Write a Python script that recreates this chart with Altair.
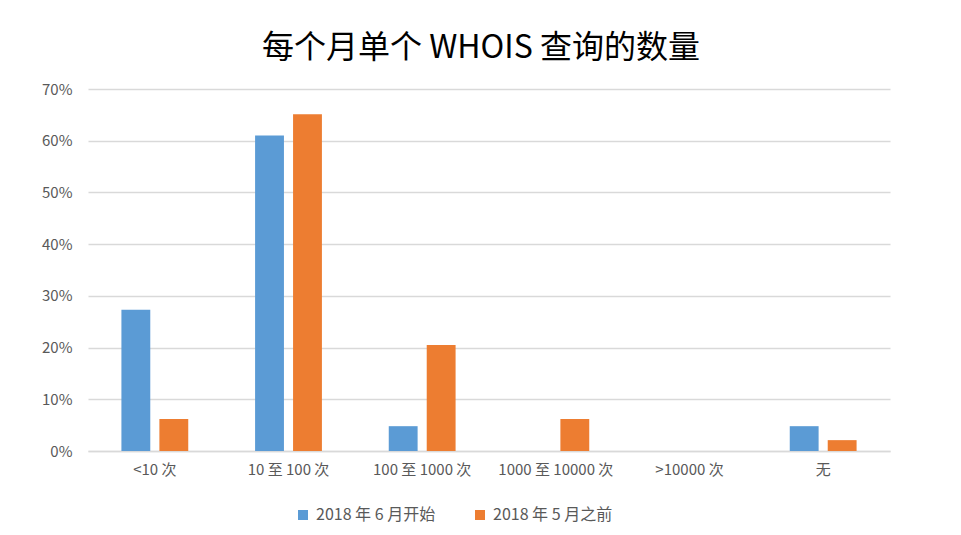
import altair as alt
import pandas as pd

categories = ["<10 次", "10 至 100 次", "100 至 1000 次", "1000 至 10000 次", ">10000 次", "无"]
series_names = ["2018 年 6 月开始", "2018 年 5 月之前"]
since_june = [0.273, 0.61, 0.048, 0.0, 0.0, 0.048]
before_may = [0.062, 0.651, 0.205, 0.062, 0.0, 0.021]
colors = ["#5B9BD5", "#ED7D31"]
y_ticks = [0, 0.1, 0.2, 0.3, 0.4, 0.5, 0.6, 0.7]

rows = []
for c, a, b in zip(categories, since_june, before_may):
    rows.append({"cat": c, "series": series_names[0], "value": a})
    rows.append({"cat": c, "series": series_names[1], "value": b})
df = pd.DataFrame(rows)

font = "Noto Sans CJK SC"

chart = alt.Chart(df).mark_bar().encode(
    x=alt.X("cat:N", sort=categories, title=None,
            scale=alt.Scale(paddingInner=0.5, paddingOuter=0.25),
            axis=alt.Axis(labelAngle=0, ticks=False, grid=False, domainColor="#d9d9d9", domainWidth=1.5,
                          labelPadding=11, labelFontSize=15, labelColor="#595959", labelFont=font)),
    xOffset=alt.XOffset("series:N", sort=series_names, scale=alt.Scale(paddingInner=0.24)),
    y=alt.Y("value:Q", title=None,
            scale=alt.Scale(domain=[0, 0.7], nice=False),
            axis=alt.Axis(values=y_ticks, format=".0%", ticks=False, domain=False,
                          gridColor="#d9d9d9", gridWidth=1.5, labelPadding=16,
                          labelFontSize=15, labelColor="#595959", labelFont=font)),
    color=alt.Color("series:N", sort=series_names,
                    scale=alt.Scale(domain=series_names, range=colors),
                    legend=alt.Legend(title=None, orient="none", direction="horizontal",
                                      legendX=207, legendY=418, symbolType="square",
                                      symbolSize=100, symbolStrokeWidth=0, labelFontSize=16,
                                      labelColor="#595959", labelFont=font, labelOffset=5,
                                      columnPadding=36)),
).properties(
    width=802,
    height=362,
    title=alt.TitleParams("每个月单个 WHOIS 查询的数量", fontSize=32, font=font,
                          fontWeight="normal", color="#000000", anchor="middle", offset=17, dx=-8),
    autosize=alt.AutoSizeParams(type="none"),
    padding={"left": 80, "top": 81, "right": 63, "bottom": 76},
).configure(background="white").configure_view(stroke=None, strokeWidth=0)

chart.save("out.html", embed_options={"renderer": "svg", "actions": False})
